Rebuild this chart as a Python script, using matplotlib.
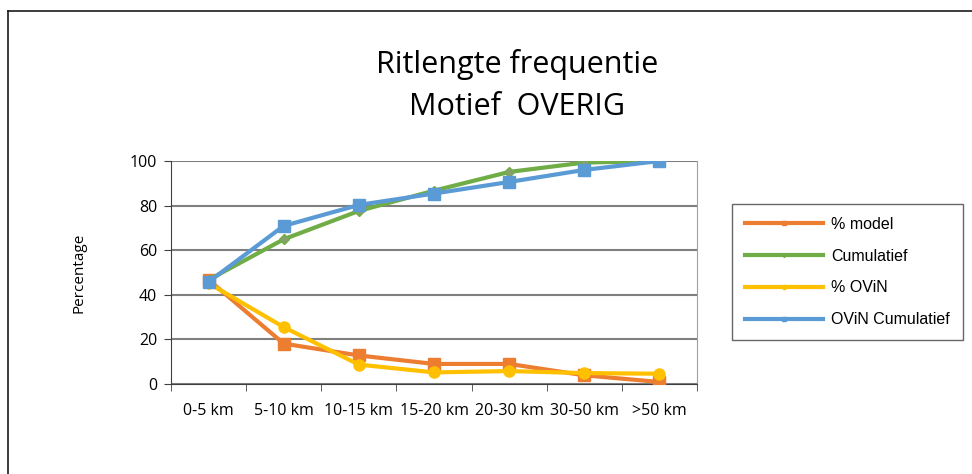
import numpy as np
import matplotlib.pyplot as plt
from matplotlib.lines import Line2D

plt.rcParams['font.family'] = ['Open Sans', 'DejaVu Sans']

categories = ["0-5 km", "5-10 km", "10-15 km", "15-20 km", "20-30 km", "30-50 km", ">50 km"]
pct_model = [46.7, 18.1, 12.8, 9.0, 9.0, 3.9, 0.9]
cumulatief = [46.7, 64.9, 77.6, 86.7, 95.1, 99.3, 100.0]
pct_ovin = [45.2, 25.5, 8.7, 5.2, 5.8, 4.9, 4.6]
ovin_cumulatief = [45.8, 70.9, 80.3, 85.4, 90.6, 96.0, 100.0]

fig = plt.figure(figsize=(9.72, 4.74), dpi=100)

# outer chart frame (only top and left visible in the reference)
fig.add_artist(Line2D([8 / 972, 8 / 972], [0, 1 - 11 / 474], color="#1a1a1a", lw=1.2))
fig.add_artist(Line2D([8 / 972, 1], [1 - 11 / 474, 1 - 11 / 474], color="#1a1a1a", lw=1.2))

ax = fig.add_axes([171 / 972, 90 / 474, 526 / 972, 223 / 474])
x = np.arange(len(categories))

ax.plot(x, pct_model, color="#ED7D31", lw=3, marker="s", ms=8, label="% model", zorder=3)
ax.plot(x, cumulatief, color="#70AD47", lw=3, marker="D", ms=5, mfc="#8aa06a", label="Cumulatief", zorder=3)
ax.plot(x, pct_ovin, color="#FFC000", lw=3, marker="o", ms=8, label="% OViN", zorder=3)
ax.plot(x, ovin_cumulatief, color="#5B9BD5", lw=3, marker="s", ms=8, label="OViN Cumulatief", zorder=4)

ax.set_xlim(-0.5, len(categories) - 0.5)
ax.set_ylim(0, 100)
ax.set_yticks(range(0, 101, 20))
ax.set_xticks(x)
ax.set_xticklabels(categories, fontsize=11.5)
ax.tick_params(axis="x", length=0, pad=14)
ax.set_xticks(np.arange(-0.5, len(categories), 1), minor=True)
ax.tick_params(axis="x", which="minor", length=5, direction="out", color="#404040")
ax.tick_params(axis="y", length=5, direction="out", color="#404040", labelsize=11.5, pad=5)
ax.grid(axis="y", color="#7f7f7f", lw=1.5, zorder=0)

ax.spines["top"].set_visible(False)
ax.spines["left"].set_color("#404040")
ax.spines["bottom"].set_color("#404040")
ax.spines["right"].set_color("#a0a0a0")

ax.set_ylabel("Percentage", fontsize=11, labelpad=31)

fig.text(517 / 972, 1 - 65 / 474, "Ritlengte frequentie", ha="center", va="center", fontsize=22)
fig.text(517 / 972, 1 - 107 / 474, "Motief  OVERIG", ha="center", va="center", fontsize=22)

handles = [
    Line2D([], [], color="#ED7D31", lw=3, marker="s", ms=3),
    Line2D([], [], color="#70AD47", lw=3, marker="D", ms=2),
    Line2D([], [], color="#FFC000", lw=3, marker="o", ms=3),
    Line2D([], [], color="#5B9BD5", lw=3, marker="s", ms=3),
]
leg = fig.legend(handles, ["% model", "Cumulatief", "% OViN", "OViN Cumulatief"],
                 loc="center left", bbox_to_anchor=(732 / 972, 1 - 272 / 474),
                 borderaxespad=0, frameon=True, fancybox=False, edgecolor="#404040",
                 prop={"family": ["Liberation Sans", "DejaVu Sans"], "size": 11.5},
                 handlelength=4.9, labelspacing=1.05, borderpad=0.8, handletextpad=0.5)
leg.get_frame().set_linewidth(1.0)

fig.savefig("out.png", dpi=100)
